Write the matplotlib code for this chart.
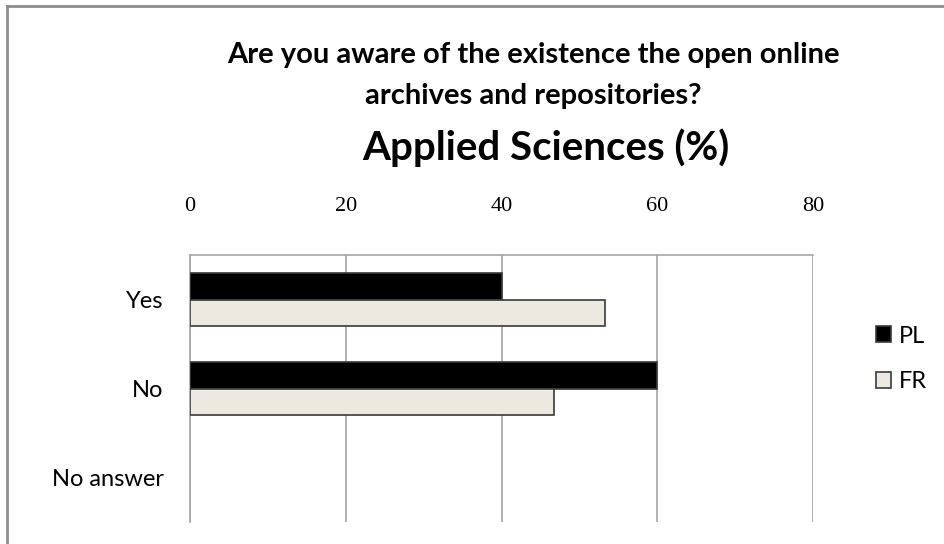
import matplotlib.pyplot as plt
import numpy as np

# Chart data (percent)
categories = ['Yes', 'No', 'No answer']
series_names = ['PL', 'FR']
pl_values = [40, 60, 0]
fr_values = [53.3, 46.7, 0]
x_ticks = [0, 20, 40, 60, 80]

pl_color = '#000000'
fr_color = '#ECEAE0'
grid_color = '#A6A6A6'

fig = plt.figure(figsize=(9.44, 5.44), dpi=100)
ax = fig.add_axes([190 / 944, 1 - 522 / 544, (813 - 190) / 944, (522 - 255) / 544])

y = np.arange(len(categories))
bar_h = 0.295
pl_lw = [1.2 if v > 0 else 0 for v in pl_values]
fr_lw = [1.2 if v > 0 else 0 for v in fr_values]
ax.barh(y - bar_h / 2, pl_values, height=bar_h, color=pl_color,
        edgecolor='#3a3a3a', linewidth=pl_lw, label=series_names[0], zorder=3)
ax.barh(y + bar_h / 2, fr_values, height=bar_h, color=fr_color,
        edgecolor='#3a3a3a', linewidth=fr_lw, label=series_names[1], zorder=3)

ax.set_xlim(0, 80)
ax.set_ylim(len(categories) - 0.5, -0.5)
ax.set_xticks(x_ticks)
ax.set_xticklabels([str(t) for t in x_ticks], fontfamily='Liberation Serif', fontsize=16)
ax.xaxis.tick_top()
ax.tick_params(axis='x', length=0, pad=28)
ax.set_yticks(y)
ax.set_yticklabels(categories, fontfamily='Lato', fontsize=17)
ax.tick_params(axis='y', length=0, pad=19)

ax.grid(axis='x', color=grid_color, linewidth=1.2, zorder=0)
for side in ['right', 'bottom']:
    ax.spines[side].set_visible(False)
for side in ['left', 'top']:
    ax.spines[side].set_color(grid_color)
    ax.spines[side].set_linewidth(1.2)

# Legend
legend_handles = [plt.Rectangle((0, 0), 1, 1, facecolor=pl_color, edgecolor='#3a3a3a', linewidth=1.2),
                  plt.Rectangle((0, 0), 1, 1, facecolor=fr_color, edgecolor='#3a3a3a', linewidth=1.2)]
fig.legend(legend_handles, series_names, loc='center left', bbox_to_anchor=(0.905, 0.34),
           frameon=False, prop={'family': 'Lato', 'size': 17}, handlelength=0.65,
           handleheight=0.65, handletextpad=0.35, labelspacing=1.05)

# Titles
fig.text(0.565, 1 - 55 / 544, 'Are you aware of the existence the open online',
         ha='center', va='center', fontfamily='Lato', fontsize=21, fontweight='bold')
fig.text(0.565, 1 - 96 / 544, 'archives and repositories?',
         ha='center', va='center', fontfamily='Lato', fontsize=21, fontweight='bold')
fig.text(0.578, 1 - 148 / 544, 'Applied Sciences (%)',
         ha='center', va='center', fontfamily='Lato', fontsize=29, fontweight='bold')

# Outer frame (top and left edges visible)
fig.add_artist(plt.Line2D([7 / 944, 1], [1 - 6 / 544, 1 - 6 / 544], color='#8C8C8C', linewidth=2))
fig.add_artist(plt.Line2D([7 / 944, 7 / 944], [0, 1 - 6 / 544], color='#8C8C8C', linewidth=2))

fig.savefig('out.png', dpi=100)
